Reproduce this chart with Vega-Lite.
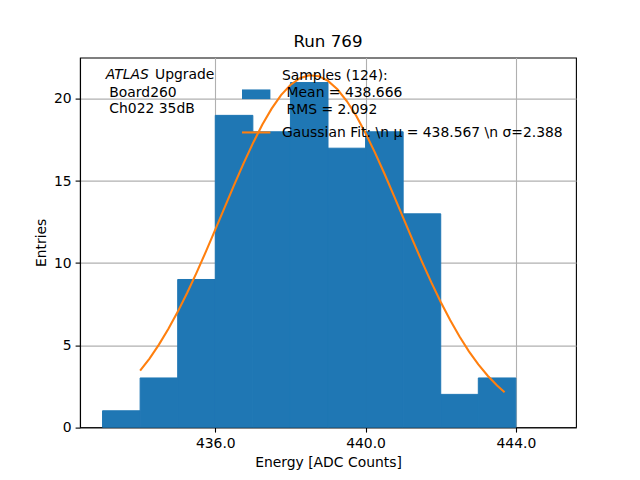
{
  "$schema": "https://vega.github.io/schema/vega-lite/v6.json",
  "width": 496,
  "height": 369.6,
  "autosize": {"type": "none"},
  "padding": {"left": 80, "top": 57.6, "right": 64, "bottom": 52.8},
  "background": "white",
  "title": {"text": "Run 769", "fontSize": 16.7, "font": "DejaVu Sans", "fontWeight": "normal", "color": "black", "offset": 7},
  "config": {
    "font": "DejaVu Sans",
    "view": {"stroke": "black", "strokeWidth": 1.1},
    "axis": {
      "domainColor": "black", "domainWidth": 1.1,
      "tickColor": "black", "tickWidth": 1.1, "tickSize": 4.9,
      "labelFontSize": 13.9, "labelColor": "black", "labelPadding": 4,
      "titleFontSize": 13.9, "titleColor": "black", "titleFontWeight": "normal", "titlePadding": 5,
      "grid": true, "gridColor": "#b0b0b0", "gridWidth": 1.1,
      "zindex": 1
    },
    "text": {"font": "DejaVu Sans", "fontSize": 13.9, "color": "black", "align": "left", "baseline": "alphabetic"}
  },
  "datasets": {
    "hist": [
      {"bin_start": 433, "bin_end": 434, "entries": 1},
      {"bin_start": 434, "bin_end": 435, "entries": 3},
      {"bin_start": 435, "bin_end": 436, "entries": 9},
      {"bin_start": 436, "bin_end": 437, "entries": 19},
      {"bin_start": 437, "bin_end": 438, "entries": 18},
      {"bin_start": 438, "bin_end": 439, "entries": 21},
      {"bin_start": 439, "bin_end": 440, "entries": 17},
      {"bin_start": 440, "bin_end": 441, "entries": 18},
      {"bin_start": 441, "bin_end": 442, "entries": 13},
      {"bin_start": 442, "bin_end": 443, "entries": 2},
      {"bin_start": 443, "bin_end": 444, "entries": 3}
    ],
    "fit": [
      {"energy": 434.0, "entries": 3.445},
      {"energy": 434.25, "entries": 4.185},
      {"energy": 434.5, "entries": 5.03},
      {"energy": 434.75, "entries": 5.978},
      {"energy": 435.0, "entries": 7.029},
      {"energy": 435.25, "entries": 8.175},
      {"energy": 435.5, "entries": 9.401},
      {"energy": 435.75, "entries": 10.697},
      {"energy": 436.0, "entries": 12.038},
      {"energy": 436.25, "entries": 13.398},
      {"energy": 436.5, "entries": 14.749},
      {"energy": 436.75, "entries": 16.06},
      {"energy": 437.0, "entries": 17.295},
      {"energy": 437.25, "entries": 18.423},
      {"energy": 437.5, "entries": 19.412},
      {"energy": 437.75, "entries": 20.232},
      {"energy": 438.0, "entries": 20.854},
      {"energy": 438.25, "entries": 21.262},
      {"energy": 438.5, "entries": 21.441},
      {"energy": 438.75, "entries": 21.387},
      {"energy": 439.0, "entries": 21.1},
      {"energy": 439.25, "entries": 20.59},
      {"energy": 439.5, "entries": 19.874},
      {"energy": 439.75, "entries": 18.973},
      {"energy": 440.0, "entries": 17.915},
      {"energy": 440.25, "entries": 16.731},
      {"energy": 440.5, "entries": 15.457},
      {"energy": 440.75, "entries": 14.125},
      {"energy": 441.0, "entries": 12.765},
      {"energy": 441.25, "entries": 11.411},
      {"energy": 441.5, "entries": 10.088},
      {"energy": 441.75, "entries": 8.823},
      {"energy": 442.0, "entries": 7.632},
      {"energy": 442.25, "entries": 6.53},
      {"energy": 442.5, "entries": 5.526},
      {"energy": 442.75, "entries": 4.625},
      {"energy": 443.0, "entries": 3.829},
      {"energy": 443.25, "entries": 3.136},
      {"energy": 443.5, "entries": 2.54},
      {"energy": 443.7, "entries": 2.128}
    ],
    "one": [{}]
  },
  "layer": [
    {
      "data": {"name": "hist"},
      "mark": {"type": "rect", "color": "#1f77b4", "stroke": "#1f77b4", "strokeWidth": 1},
      "encoding": {
        "x": {
          "field": "bin_start", "type": "quantitative",
          "scale": {"domain": [432.4, 445.6], "nice": false, "zero": false},
          "axis": {"title": "Energy [ADC Counts]", "values": [436, 440, 444], "format": ".1f"}
        },
        "x2": {"field": "bin_end"},
        "y": {
          "field": "entries", "type": "quantitative",
          "scale": {"domain": [0, 22.52], "nice": false},
          "axis": {"title": "Entries", "values": [0, 5, 10, 15, 20], "format": "d"}
        },
        "y2": {"datum": 0}
      }
    },
    {
      "data": {"name": "fit"},
      "mark": {"type": "line", "color": "#ff7f0e", "strokeWidth": 2.08},
      "encoding": {
        "x": {"field": "energy", "type": "quantitative"},
        "y": {"field": "entries", "type": "quantitative"}
      }
    },
    {
      "data": {"name": "one"},
      "mark": {"type": "rect", "color": "#1f77b4"},
      "encoding": {
        "x": {"datum": 436.711}, "x2": {"datum": 437.467},
        "y": {"datum": 20.58}, "y2": {"datum": 19.99}
      }
    },
    {
      "data": {"name": "one"},
      "mark": {"type": "rule", "color": "#ff7f0e", "strokeWidth": 2.08},
      "encoding": {
        "x": {"datum": 436.711}, "x2": {"datum": 437.467},
        "y": {"datum": 17.96}
      }
    },
    {
      "data": {"name": "one"},
      "mark": {"type": "text"},
      "encoding": {"x": {"datum": 437.776}, "y": {"datum": 21.14}, "text": {"value": "Samples (124):"}}
    },
    {
      "data": {"name": "one"},
      "mark": {"type": "text"},
      "encoding": {"x": {"datum": 437.898}, "y": {"datum": 20.12}, "text": {"value": "Mean = 438.666"}}
    },
    {
      "data": {"name": "one"},
      "mark": {"type": "text"},
      "encoding": {"x": {"datum": 437.898}, "y": {"datum": 19.1}, "text": {"value": "RMS = 2.092"}}
    },
    {
      "data": {"name": "one"},
      "mark": {"type": "text"},
      "encoding": {"x": {"datum": 437.776}, "y": {"datum": 17.68}, "text": {"value": "Gaussian Fit: \\n μ = 438.567 \\n σ=2.388"}}
    },
    {
      "data": {"name": "one"},
      "mark": {"type": "text", "fontStyle": "italic"},
      "encoding": {"x": {"datum": 433.084}, "y": {"datum": 21.237}, "text": {"value": "ATLAS"}}
    },
    {
      "data": {"name": "one"},
      "mark": {"type": "text"},
      "encoding": {"x": {"datum": 434.396}, "y": {"datum": 21.237}, "text": {"value": "Upgrade"}}
    },
    {
      "data": {"name": "one"},
      "mark": {"type": "text"},
      "encoding": {"x": {"datum": 433.18}, "y": {"datum": 20.14}, "text": {"value": "Board260"}}
    },
    {
      "data": {"name": "one"},
      "mark": {"type": "text"},
      "encoding": {"x": {"datum": 433.18}, "y": {"datum": 19.165}, "text": {"value": "Ch022 35dB"}}
    }
  ]
}
